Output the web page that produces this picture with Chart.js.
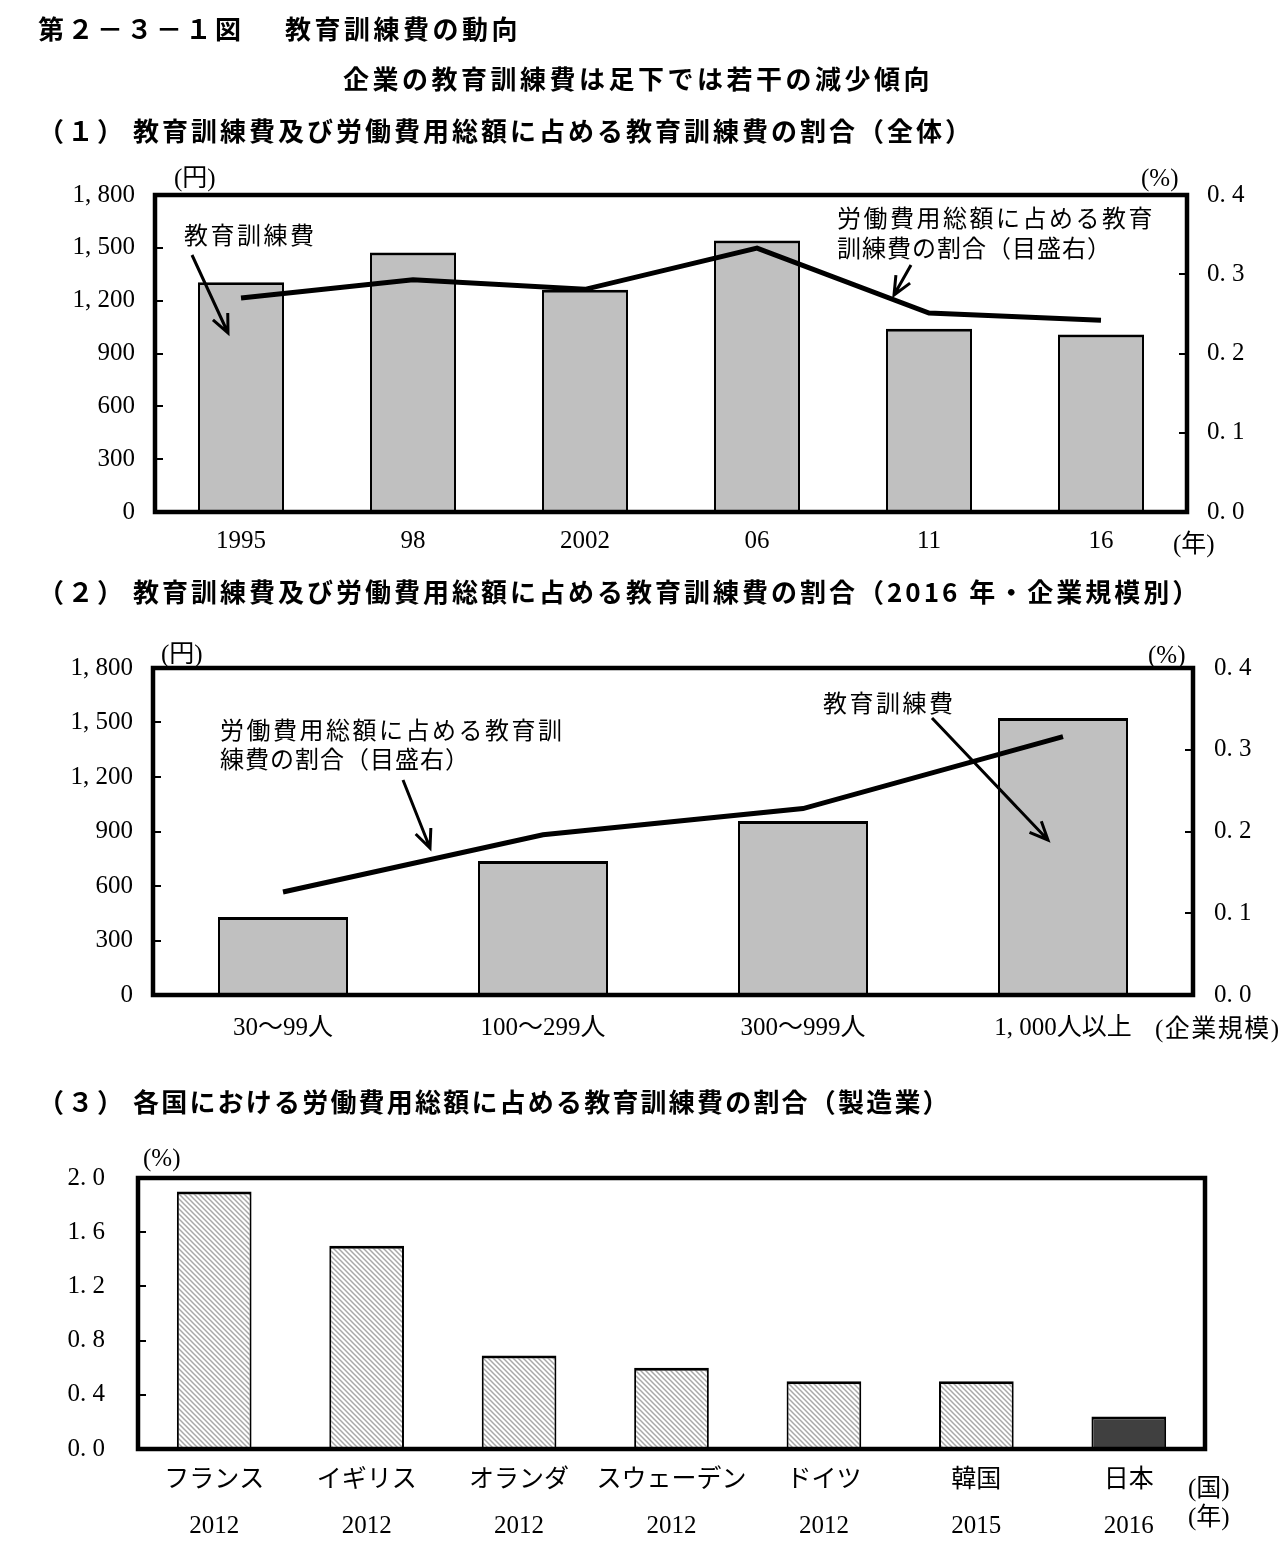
<!DOCTYPE html>
<html><head><meta charset="utf-8">
<script src="https://cdn.jsdelivr.net/npm/chart.js@4.4.1/dist/chart.umd.min.js"></script>
<style>
body{margin:0;width:1288px;height:1554px;background:#fff;position:relative;overflow:hidden;}
.t{position:absolute;white-space:nowrap;color:#000;}
.h{font-family:'Noto Sans CJK JP',sans-serif;font-weight:bold;font-size:26px;line-height:26px;letter-spacing:3.5px;}
.a{font-family:'Liberation Serif','Noto Sans CJK JP',serif;font-size:24px;line-height:24px;letter-spacing:2.5px;}
.u{font-family:'Liberation Serif','Noto Sans CJK JP',serif;font-size:25px;line-height:25px;}
canvas{position:absolute;left:0;}
svg{position:absolute;left:0;top:0;}
</style></head>
<body>
<canvas id="c1" width="1288" height="420" style="top:150px"></canvas>
<canvas id="c2" width="1288" height="430" style="top:620px"></canvas>
<canvas id="c3" width="1288" height="424" style="top:1130px"></canvas>
<svg id="ov" width="1288" height="1554"></svg>
<script>
// ---- data ----
const years = ["1995", "98", "2002", "06", "11", "16"];
const trainingCost = [1305, 1474, 1262, 1541, 1040, 1008];
const trainingShare = [0.270, 0.293, 0.281, 0.333, 0.251, 0.242];
const costTicks = ["0", "300", "600", "900", "1, 200", "1, 500", "1, 800"];
const shareTicks = ["0. 0", "0. 1", "0. 2", "0. 3", "0. 4"];

const sizes = ["30～99人", "100～299人", "300～999人", "1, 000人以上"];
const sizeCost = [430, 738, 958, 1525];
const sizeShare = [0.126, 0.196, 0.228, 0.316];

const countries = ["フランス", "イギリス", "オランダ", "スウェーデン", "ドイツ", "韓国", "日本"];
const countryYears = ["2012", "2012", "2012", "2012", "2012", "2015", "2016"];
const countryShare = [1.9, 1.5, 0.69, 0.6, 0.5, 0.5, 0.24];
const intlTicks = ["0. 0", "0. 4", "0. 8", "1. 2", "1. 6", "2. 0"];

// ---- helpers ----
const NUMFONT = "'Liberation Serif', 'Noto Sans CJK JP', serif";
Chart.defaults.color = '#000';

function txt(str, x, yc, cls, extra) {
  const d = document.createElement('div');
  d.className = 't ' + cls;
  d.textContent = str;
  const fs = cls === 'h' ? 26 : (cls === 'a' ? 24 : 25);
  d.style.left = x + 'px';
  d.style.top = (yc - fs / 2) + 'px';
  if (extra) Object.assign(d.style, extra);
  document.body.appendChild(d);
}

const framePlugin = {
  id: 'frame',
  afterDatasetsDraw(chart) {
    const {ctx, chartArea: a} = chart;
    ctx.save();
    ctx.strokeStyle = '#000';
    ctx.lineWidth = 2;
    for (const id of Object.keys(chart.scales)) {
      const s = chart.scales[id];
      if (s.axis !== 'y') continue;
      const left = s.position === 'left';
      s.ticks.forEach(t => {
        const y = Math.round(s.getPixelForValue(t.value));
        ctx.beginPath();
        if (left) { ctx.moveTo(a.left, y); ctx.lineTo(a.left + 8, y); }
        else { ctx.moveTo(a.right, y); ctx.lineTo(a.right - 8, y); }
        ctx.stroke();
      });
    }
    ctx.lineWidth = 4.5;
    ctx.strokeRect(a.left, a.top, a.right - a.left, a.bottom - a.top);
    ctx.restore();
  }
};

function yAxis(pos, min, max, step, labels, width, pad) {
  return {
    position: pos, min: min, max: max,
    grid: {display: false, drawTicks: false},
    border: {display: false},
    ticks: {stepSize: step, padding: pad, callback: (v, i) => labels[i], font: {family: NUMFONT, size: 25}, color: '#000'},
    afterFit(s) { s.width = width; }
  };
}
function xAxis(height, pad, lh) {
  return {
    grid: {display: false, drawTicks: false},
    border: {display: false},
    ticks: {padding: pad, maxRotation: 0, autoSkip: false, font: {family: NUMFONT, size: 25, lineHeight: lh || 1.2}, color: '#000'},
    afterFit(s) { s.height = height; }
  };
}
const baseOpts = {
  responsive: false, animation: false, devicePixelRatio: 1,
  plugins: {legend: {display: false}, tooltip: {enabled: false}}
};

// ---- chart 1 ----
new Chart(document.getElementById('c1'), {
  type: 'bar',
  data: {labels: years, datasets: [
    {type: 'line', data: trainingShare, yAxisID: 'yR', borderColor: '#000', borderWidth: 5, pointRadius: 0, tension: 0, order: 0, borderJoinStyle: 'miter'},
    {type: 'bar', data: trainingCost, yAxisID: 'yL', backgroundColor: '#c0c0c0', borderColor: '#000', borderWidth: {top: 3, left: 2, right: 2, bottom: 0}, barPercentage: 0.5, categoryPercentage: 1, order: 1}
  ]},
  options: Object.assign({}, baseOpts, {
    layout: {padding: {top: 45, left: 0, right: 0, bottom: 0}},
    scales: {
      x: xAxis(58, 14),
      yL: yAxis('left', 0, 1800, 300, costTicks, 155, 20),
      yR: yAxis('right', 0, 0.4, 0.1, shareTicks, 101, 20)
    }
  }),
  plugins: [framePlugin]
});

// ---- chart 2 ----
new Chart(document.getElementById('c2'), {
  type: 'bar',
  data: {labels: sizes, datasets: [
    {type: 'line', data: sizeShare, yAxisID: 'yR', borderColor: '#000', borderWidth: 5, pointRadius: 0, tension: 0, order: 0, borderJoinStyle: 'miter'},
    {type: 'bar', data: sizeCost, yAxisID: 'yL', backgroundColor: '#c0c0c0', borderColor: '#000', borderWidth: {top: 3, left: 2, right: 2, bottom: 0}, barPercentage: 0.5, categoryPercentage: 1, order: 1}
  ]},
  options: Object.assign({}, baseOpts, {
    layout: {padding: {top: 48, left: 0, right: 0, bottom: 0}},
    scales: {
      x: xAxis(55, 18),
      yL: yAxis('left', 0, 1800, 300, costTicks, 153, 20),
      yR: yAxis('right', 0, 0.4, 0.1, shareTicks, 95, 21)
    }
  }),
  plugins: [framePlugin]
});

// ---- chart 3 ----
function hatch() {
  const c = document.createElement('canvas');
  c.width = c.height = 5;
  const g = c.getContext('2d');
  g.fillStyle = '#fff'; g.fillRect(0, 0, 5, 5);
  g.strokeStyle = '#a8a8a8'; g.lineWidth = 1.5;
  g.beginPath();
  g.moveTo(-1, -1); g.lineTo(6, 6);
  g.moveTo(-1, 4); g.lineTo(1, 6);
  g.moveTo(4, -1); g.lineTo(6, 1);
  g.stroke();
  return g.createPattern(c, 'repeat');
}
const pat = hatch();
new Chart(document.getElementById('c3'), {
  type: 'bar',
  data: {labels: countries.map((c, i) => [c, countryYears[i]]), datasets: [
    {data: countryShare, yAxisID: 'y',
     backgroundColor: countries.map((c, i) => i === countries.length - 1 ? '#404040' : pat),
     borderColor: '#000', borderWidth: {top: 3, left: 2, right: 2, bottom: 0}, barPercentage: 0.49, categoryPercentage: 1}
  ]},
  options: Object.assign({}, baseOpts, {
    layout: {padding: {top: 44, left: 0, right: 83, bottom: 0}},
    scales: {
      x: xAxis(105, 8, '46px'),
      y: yAxis('left', 0, 2.0, 0.4, intlTicks, 138, 33)
    }
  }),
  plugins: [framePlugin]
});

// ---- texts ----
txt('第２－３－１図', 38, 28, 'h');
txt('教育訓練費の動向', 285, 28, 'h');
txt('企業の教育訓練費は足下では若干の減少傾向', 343, 78, 'h');
txt('（１）', 38, 130, 'h');
txt('教育訓練費及び労働費用総額に占める教育訓練費の割合（全体）', 133, 130, 'h', {letterSpacing: '3px'});
txt('（２）', 38, 591, 'h');
txt('教育訓練費及び労働費用総額に占める教育訓練費の割合（2016 年・企業規模別）', 133, 591, 'h', {letterSpacing: '3px'});
txt('（３）', 38, 1101, 'h');
txt('各国における労働費用総額に占める教育訓練費の割合（製造業）', 133, 1101, 'h', {letterSpacing: '2.2px'});

txt('(円)', 174, 177, 'u');
txt('(%)', 1141, 177, 'u');
txt('(年)', 1173, 543, 'u');
txt('教育訓練費', 184, 236, 'a');
txt('労働費用総額に占める教育', 837, 219, 'a');
txt('訓練費の割合（目盛右）', 837, 249, 'a', {letterSpacing: '1px'});

txt('(円)', 161, 653, 'u');
txt('(%)', 1148, 654, 'u');
txt('(企業規模)', 1155, 1028, 'u', {letterSpacing: '1.5px'});
txt('労働費用総額に占める教育訓', 220, 731, 'a');
txt('練費の割合（目盛右）', 220, 760, 'a', {letterSpacing: '1px'});
txt('教育訓練費', 823, 704, 'a');

txt('(%)', 143, 1157, 'u');
txt('(国)', 1188, 1487, 'u');
txt('(年)', 1188, 1516, 'u');

// ---- arrows ----
const ov = document.getElementById('ov');
function arrow(x1, y1, x2, y2) {
  const ns = 'http://www.w3.org/2000/svg';
  const ang = Math.atan2(y2 - y1, x2 - x1);
  const L = 20, sp = 0.42;
  const p = `M${x1},${y1} L${x2},${y2} M${x2 - L * Math.cos(ang - sp)},${y2 - L * Math.sin(ang - sp)} L${x2},${y2} L${x2 - L * Math.cos(ang + sp)},${y2 - L * Math.sin(ang + sp)}`;
  const e = document.createElementNS(ns, 'path');
  e.setAttribute('d', p);
  e.setAttribute('stroke', '#000');
  e.setAttribute('stroke-width', '3');
  e.setAttribute('fill', 'none');
  ov.appendChild(e);
}
arrow(192, 255, 228, 333);
arrow(911, 265, 894, 295);
arrow(403, 780, 430, 848);
arrow(932, 718, 1048, 840);
</script>
</body></html>
